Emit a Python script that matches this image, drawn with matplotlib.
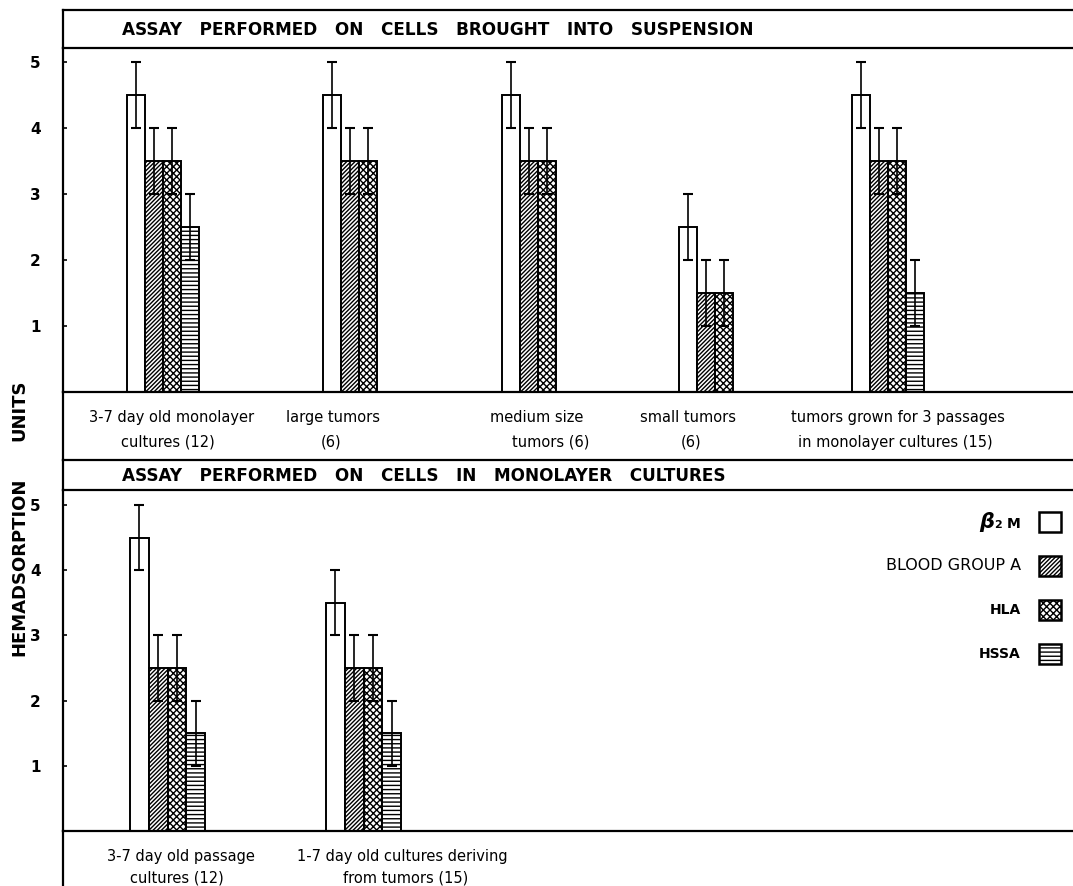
import matplotlib
matplotlib.use("Agg")
import matplotlib.pyplot as plt
import matplotlib.patches as mpatches

# ---- data ----
series = ["β2M", "BLOOD GROUP A", "HLA", "HSSA"]

top_groups = [
    ["3-7 day old monolayer", "cultures (12)"],
    ["large tumors", "(6)"],
    ["medium size", "tumors (6)"],
    ["small tumors", "(6)"],
    ["tumors grown for 3 passages", "in monolayer cultures (15)"],
]
# mean hemadsorption units per series (None = not tested)
top_b2m = [4.5, 4.5, 4.5, 2.5, 4.5]
top_bga = [3.5, 3.5, 3.5, 1.5, 3.5]
top_hla = [3.5, 3.5, 3.5, 1.5, 3.5]
top_hssa = [2.5, None, None, None, 1.5]
top_err = [0.5, 0.5, 0.5, 0.5, 0.5]

bot_groups = [
    ["3-7 day old passage", "cultures (12)"],
    ["1-7 day old cultures deriving", "from tumors (15)"],
]
bot_b2m = [4.5, 3.5]
bot_bga = [2.5, 2.5]
bot_hla = [2.5, 2.5]
bot_hssa = [1.5, 1.5]
bot_err = [0.5, 0.5]

yticks = [1, 2, 3, 4, 5]

# ---- layout (figure pixels) ----
W, H = 1073, 886
X0 = 63
plt.rcParams["hatch.linewidth"] = 1.0
plt.rcParams["font.family"] = ["DejaVu Sans"]

HATCHES = [None, "////////", "xxxxx", "----"]
LW = 1.6


def box(x0, y0, x1, y1):
    return [x0 / W, 1 - y1 / H, (x1 - x0) / W, (y1 - y0) / H]


def frame(ax, left=True, top=False, bottom=False):
    # transparent background so stacked boxes don't hide each other's borders
    ax.patch.set_visible(False)
    for name, sp in ax.spines.items():
        sp.set_linewidth(LW)
        sp.set_visible({"left": left, "top": top, "bottom": bottom, "right": False}[name])
    ax.set_xlim(0, W - X0)


fig = plt.figure(figsize=(W / 100, H / 100), dpi=100)


def title_box(y0, y1, text):
    ax = fig.add_axes(box(X0, y0, W, y1))
    frame(ax, top=True, bottom=True)
    ax.set_ylim(0, 1)
    ax.set_xticks([])
    ax.set_yticks([])
    ax.text(122 - X0, 0.48, text, fontsize=12.2, fontweight="bold", ha="left", va="center")


def bar_panel(y0, y1, y_zero, unit, starts, width, values, errs):
    ax = fig.add_axes(box(X0, y0, W, y1))
    frame(ax, bottom=True)
    ax.set_ylim(0, (y_zero - y0) / unit)
    for gi, x in enumerate(starts):
        for si, vals in enumerate(values):
            v = vals[gi]
            if v is None:
                continue
            xc = x + (si + 0.5) * width
            ax.bar(xc, v, width=width, facecolor="white", edgecolor="black",
                   linewidth=1.4, hatch=HATCHES[si], zorder=2)
            ax.errorbar(xc, v, yerr=errs[gi], fmt="none", ecolor="black",
                        elinewidth=1.2, capsize=3.5, capthick=1.5, zorder=3)
    ax.set_xticks([])
    ax.set_yticks(yticks)
    ax.tick_params(axis="y", direction="in", length=3, width=1.2, pad=16)
    for lbl in ax.get_yticklabels():
        lbl.set_fontweight("bold")
        lbl.set_fontsize(11)
    return ax


def label_strip(y0, y1, centers, labels, rows):
    ax = fig.add_axes(box(X0, y0, W, y1))
    frame(ax)
    ax.set_ylim(y1 - y0, 0)
    ax.set_xticks([])
    ax.set_yticks([])
    for cs, lines in zip(centers, labels):
        for c, r, t in zip(cs, rows, lines):
            ax.text(c - X0, r - y0, t, fontsize=10.5, ha="center", va="center")


# upper section: cells brought into suspension
title_box(10, 48, "ASSAY   PERFORMED   ON   CELLS   BROUGHT   INTO   SUSPENSION")
bar_panel(48, 392, 392, 66.0, [s - X0 for s in [127, 323, 502, 679, 852]], 18,
          [top_b2m, top_bga, top_hla, top_hssa], top_err)
label_strip(392, 460, [(172, 168), (333, 331), (537, 551), (688, 691), (898, 895)],
            top_groups, (417, 442))

# lower section: cells in monolayer cultures
title_box(460, 490, "ASSAY   PERFORMED   ON   CELLS   IN   MONOLAYER   CULTURES")
bar_panel(490, 831, 831, 65.2, [s - X0 for s in [130, 326]], 18.8,
          [bot_b2m, bot_bga, bot_hla, bot_hssa], bot_err)
label_strip(831, H, [(181, 177), (402, 406)], bot_groups, (857, 878))

# y axis title
fig.text(19 / W, 1 - 410 / H, "UNITS", rotation=90, fontsize=13,
         fontweight="bold", ha="center", va="center")
fig.text(19 / W, 1 - 567 / H, "HEMADSORPTION", rotation=90, fontsize=13,
         fontweight="bold", ha="center", va="center")

# legend
leg_y = [522, 566, 610, 654]
for si, (name, yy) in enumerate(zip(series, leg_y)):
    fig.add_artist(mpatches.Rectangle((1039 / W, 1 - (yy + 10) / H), 22 / W, 20 / H,
                                      transform=fig.transFigure, facecolor="white",
                                      edgecolor="black", linewidth=1.8, hatch=HATCHES[si]))
    if si == 0:
        fig.text(1020 / W, 1 - (yy + 6) / H, "M", fontsize=10, fontweight="bold",
                 ha="right", va="baseline")
        fig.text(1002 / W, 1 - (yy + 6) / H, "2", fontsize=8, fontweight="bold",
                 ha="right", va="baseline")
        fig.text(994 / W, 1 - (yy + 6) / H, "β", fontsize=15, fontweight="bold",
                 style="italic", ha="right", va="baseline")
    else:
        fig.text(1021 / W, 1 - yy / H, name, fontsize=11.5 if si == 1 else 10,
                 fontweight="normal" if si == 1 else "bold", ha="right", va="center")

fig.savefig("out.png", dpi=100, facecolor="white")
